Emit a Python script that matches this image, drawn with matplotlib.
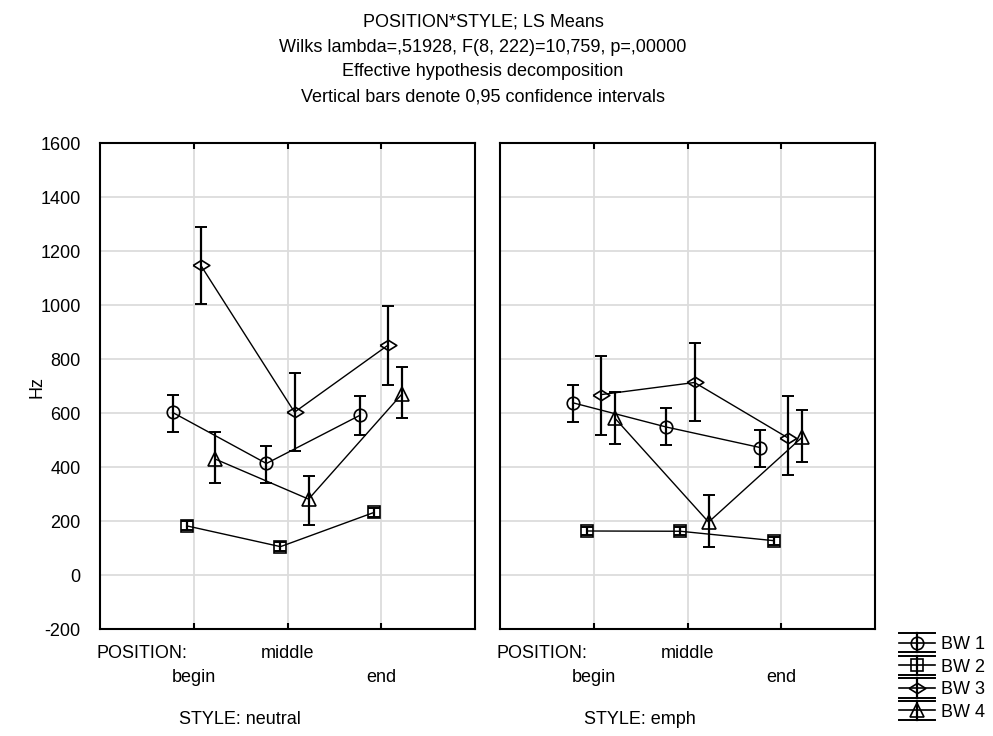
import matplotlib
matplotlib.use("Agg")
import matplotlib.pyplot as plt
from matplotlib.lines import Line2D
from matplotlib.legend_handler import HandlerBase

plt.rcParams['font.family'] = ['Liberation Sans', 'DejaVu Sans']

positions = ["begin", "middle", "end"]
styles = ["neutral", "emph"]
series = ["BW 1", "BW 2", "BW 3", "BW 4"]

# LS means (Hz) per style: rows = series, columns = positions
means_neutral = [
    [602, 413, 592],
    [182, 105, 232],
    [1147, 603, 852],
    [430, 281, 672],
]
lower_neutral = [
    [530, 341, 519],
    [165, 88, 215],
    [1003, 459, 704],
    [341, 185, 581],
]
upper_neutral = [
    [667, 478, 663],
    [199, 122, 249],
    [1290, 748, 996],
    [530, 367, 770],
]
means_emph = [
    [638, 548, 472],
    [163, 162, 127],
    [668, 713, 507],
    [581, 196, 511],
]
lower_emph = [
    [567, 481, 400],
    [148, 147, 112],
    [519, 570, 370],
    [485, 104, 419],
]
upper_emph = [
    [704, 618, 537],
    [178, 177, 142],
    [811, 859, 663],
    [678, 296, 611],
]

yticks = [-200, 0, 200, 400, 600, 800, 1000, 1200, 1400, 1600]

diamond = [(-1, 0), (0, 0.62), (1, 0), (0, -0.62), (-1, 0)]
markers = ['o', 's', diamond, '^']
msizes = [9, 8.5, 12, 10]
offsets = [-0.225, -0.075, 0.075, 0.225]

W, H = 993, 736
fig = plt.figure(figsize=(W / 100, H / 100), dpi=100)

def fx(px):
    return px / W

def fy(py):
    return 1 - py / H

panels = [
    (100, 475, means_neutral, lower_neutral, upper_neutral, "neutral"),
    (500, 875, means_emph, lower_emph, upper_emph, "emph"),
]
top, bottom = 143, 629
fs = 13
for pi, (x0, x1, m, lo, up, sname) in enumerate(panels):
    ax = fig.add_axes([fx(x0), fy(bottom), fx(x1 - x0), (bottom - top) / H])
    for s in range(4):
        xs = [i + 1 + offsets[s] for i in range(3)]
        yerr = [[m[s][i] - lo[s][i] for i in range(3)], [up[s][i] - m[s][i] for i in range(3)]]
        ax.plot(xs, m[s], color='black', lw=1.0, zorder=3)
        ax.errorbar(xs, m[s], yerr=yerr, fmt='none', ecolor='black', elinewidth=1.6,
                    capsize=4.2, capthick=1.4, zorder=4)
        ax.plot(xs, m[s], linestyle='none', marker=markers[s], markersize=msizes[s],
                markerfacecolor='none', markeredgecolor='black', markeredgewidth=1.2, zorder=5)
    ax.set_xlim(0, 4)
    ax.set_ylim(-200, 1600)
    ax.set_yticks(yticks)
    ax.set_xticks([1, 2, 3])
    ax.grid(True, color='#dcdcdc', lw=1.3)
    ax.set_axisbelow(True)
    ax.tick_params(axis='both', which='both', length=0)
    ax.set_xticklabels([])
    ax.tick_params(axis='x', top=True, direction='in', length=4, width=1.5)
    if pi == 0:
        ax.set_yticklabels([str(t) for t in yticks], fontsize=fs)
        ax.tick_params(axis='y', pad=14)
    else:
        ax.set_yticklabels([])
    for sp in ax.spines.values():
        sp.set_linewidth(1.5)
    fig.text(fx(x0 - 4), fy(653), "POSITION:", fontsize=fs, ha='left', va='center')
    for i, p in enumerate(positions):
        px = x0 + (i + 1) * (x1 - x0) / 4
        row = 653 if i == 1 else 678
        fig.text(fx(px), fy(row), p, fontsize=fs, ha='center', va='center')
    fig.text(fx(x0 + 140), fy(720), "STYLE: " + sname, fontsize=fs, ha='center', va='center')

fig.text(fx(37), fy(387), "Hz", fontsize=fs, rotation=90, ha='center', va='center')

titles = [
    "POSITION*STYLE; LS Means",
    "Wilks lambda=,51928, F(8, 222)=10,759, p=,00000",
    "Effective hypothesis decomposition",
    "Vertical bars denote 0,95 confidence intervals",
]
for i, t in enumerate(titles):
    fig.text(fx(483), fy(22 + 25 * i), t, fontsize=fs, ha='center', va='center')


class HandlerEB(HandlerBase):
    def create_artists(self, legend, orig_handle, xdescent, ydescent, width, height,
                       fontsize, trans):
        cy = height / 2 - ydescent
        xl, xr = -xdescent, width - xdescent
        xc = (xl + xr) / 2
        d = 7.0
        arts = []
        for yy, lw in [(cy, 1.2), (cy + d, 1.4), (cy - d, 1.4)]:
            arts.append(Line2D([xl, xr], [yy, yy], color='black', lw=lw, transform=trans))
        arts.append(Line2D([xc, xc], [cy - d, cy + d], color='black', lw=1.6, transform=trans))
        arts.append(Line2D([xc], [cy], linestyle='none', marker=orig_handle.get_marker(),
                           markersize=orig_handle.get_markersize(), markerfacecolor='none',
                           markeredgecolor='black', markeredgewidth=1.2, transform=trans))
        return arts


leg_handles = [Line2D([], [], marker=markers[s], markersize=msizes[s]) for s in range(4)]
leg = fig.legend(leg_handles, series, loc='upper left', bbox_to_anchor=(fx(899), fy(636)),
                 frameon=False, fontsize=fs, handlelength=2.0, handletextpad=0.3,
                 labelspacing=0.31, borderaxespad=0, borderpad=0,
                 handler_map={Line2D: HandlerEB()})

fig.savefig("out.png", dpi=100)
